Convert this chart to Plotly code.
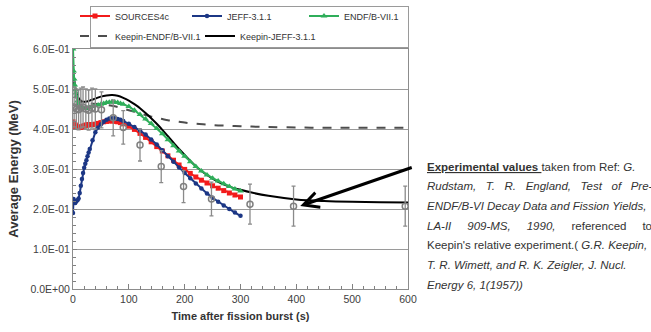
import plotly.graph_objects as go

# ---------------- data ----------------
time_calc = [0, 1, 2, 3, 4, 5, 6, 8, 10, 12, 14, 16, 18, 20, 22, 24, 26, 28, 30,
             35, 40, 45, 50, 55, 60, 65, 70, 75, 80, 85, 90,
             100, 110, 120, 130, 140, 150, 160, 170, 180, 190, 200,
             210, 220, 230, 240, 250, 260, 270, 280, 290, 300]

sources4c = [0.418, 0.410, 0.407, 0.409, 0.410, 0.407, 0.405, 0.404, 0.404, 0.405, 0.404,
             0.406, 0.407, 0.408, 0.409, 0.410, 0.410, 0.411, 0.411,
             0.411, 0.412, 0.414, 0.416, 0.418, 0.419, 0.420, 0.420, 0.419, 0.418, 0.416, 0.413,
             0.407, 0.399, 0.389, 0.379, 0.368, 0.356, 0.345, 0.333, 0.322, 0.310, 0.299,
             0.289, 0.280, 0.272, 0.265, 0.258, 0.252, 0.246, 0.240, 0.235, 0.230]

jeff311 = [0.190, 0.225, 0.220, 0.216, 0.215, 0.218, 0.220, 0.222, 0.226, 0.240, 0.258,
           0.275, 0.290, 0.303, 0.313, 0.322, 0.332, 0.341, 0.350,
           0.372, 0.392, 0.404, 0.412, 0.418, 0.423, 0.426, 0.427, 0.427, 0.425, 0.423, 0.420,
           0.413, 0.405, 0.396, 0.386, 0.374, 0.361, 0.347, 0.332, 0.318, 0.304, 0.290,
           0.277, 0.264, 0.251, 0.239, 0.228, 0.218, 0.209, 0.200, 0.191, 0.183]

endf71 = [0.600, 0.545, 0.525, 0.510, 0.498, 0.490, 0.482, 0.470, 0.462, 0.457, 0.454,
          0.452, 0.451, 0.451, 0.451, 0.452, 0.452, 0.453, 0.454,
          0.456, 0.458, 0.460, 0.462, 0.464, 0.466, 0.467, 0.468, 0.467, 0.466, 0.464, 0.462,
          0.456, 0.447, 0.436, 0.425, 0.414, 0.401, 0.388, 0.373, 0.358, 0.345, 0.332,
          0.318, 0.306, 0.295, 0.285, 0.277, 0.270, 0.263, 0.256, 0.250, 0.245]

time_keepin = [0, 1, 2, 3, 4, 6, 8, 10, 15, 20, 25, 30, 40, 50, 60, 70, 80, 90, 100,
               110, 120, 130, 140, 150, 160, 170, 180, 190, 200, 220, 240, 260, 280, 300,
               320, 350, 400, 450, 500, 550, 600]

keepin_endf = [0.525, 0.515, 0.503, 0.494, 0.487, 0.478, 0.472, 0.469, 0.466, 0.465, 0.464,
               0.464, 0.463, 0.462, 0.460, 0.458, 0.455, 0.451, 0.447,
               0.443, 0.439, 0.435, 0.431, 0.428, 0.425, 0.422, 0.420, 0.418, 0.416, 0.413,
               0.411, 0.409, 0.408, 0.407, 0.406, 0.405, 0.404, 0.403, 0.403, 0.403, 0.403]

keepin_jeff = [0.520, 0.535, 0.525, 0.514, 0.505, 0.492, 0.483, 0.477, 0.470, 0.468, 0.469,
               0.471, 0.476, 0.481, 0.484, 0.485, 0.483, 0.478, 0.471,
               0.462, 0.452, 0.440, 0.427, 0.413, 0.398, 0.382, 0.366, 0.350, 0.335, 0.307,
               0.285, 0.268, 0.256, 0.248, 0.241, 0.233, 0.224, 0.220, 0.218, 0.217, 0.216]

exp_time = [2, 6, 10, 14, 18, 23, 28, 34, 40, 51, 72, 90, 120, 158, 198, 248, 317, 395, 595]
exp_value = [0.455, 0.450, 0.448, 0.452, 0.455, 0.450, 0.447, 0.452, 0.450, 0.448, 0.428,
             0.404, 0.360, 0.306, 0.256, 0.225, 0.212, 0.207, 0.207]
exp_error = [0.05, 0.05, 0.05, 0.05, 0.05, 0.05, 0.05, 0.05, 0.05, 0.045, 0.045,
             0.042, 0.04, 0.04, 0.04, 0.042, 0.05, 0.05, 0.05]

y_tick_values = [0.0, 0.1, 0.2, 0.3, 0.4, 0.5, 0.6]
y_tick_labels = ["0.0E+00", "1.0E-01", "2.0E-01", "3.0E-01", "4.0E-01", "5.0E-01", "6.0E-01"]
x_tick_values = [0, 100, 200, 300, 400, 500, 600]

S = "\u00a0"  # extra spacing used to imitate the justified paragraph
note_lines = [
    f"<b><u>Experimental values </u></b>taken{S}from{S}Ref:{S}<i>G.</i>",
    f"<i>Rudstam,{S}{S} T.{S}{S} R.{S}{S} England,{S}{S} Test{S}{S} of{S}{S} Pre-</i>",
    "<i>ENDF/B-VI Decay Data and Fission Yields,</i>",
    f"<i>LA-II{S*4} 909-MS,{S*4} 1990,</i>{S*4} referenced{S*4} to",
    f"Keepin's relative experiment.( <i>G.R. Keepin,</i>",
    f"<i>T.{S}R.{S}Wimett,{S}and{S}R.{S}K.{S}Zeigler,{S}J.{S}Nucl.</i>",
    "<i>Energy 6, 1(1957))</i>",
]

# ---------------- geometry (pixels) ----------------
W, H = 651, 332
L, R, T, B = 73, 243, 7, 43          # paper area spans y 7..289
PH = H - T - B                        # 282
PLOT_TOP = 49                         # top of the main plotting area


def py(ypix):
    return (H - B - ypix) / PH


def px(xpix):
    return (xpix - L) / (W - L - R)


# ---------------- figure ----------------
FONT = "Liberation Sans, Arial, sans-serif"
fig = go.Figure()

fig.add_trace(go.Scatter(x=time_keepin, y=keepin_endf, mode="lines", name="Keepin-ENDF/B-VII.1",
                         line=dict(color="#4d4d4d", width=2, dash="dash", shape="spline"),
                         legend="legend2", legendrank=1, legendwidth=80))
fig.add_trace(go.Scatter(x=time_keepin, y=keepin_jeff, mode="lines", name="Keepin-JEFF-3.1.1",
                         line=dict(color="#000000", width=2, shape="spline"),
                         legend="legend2", legendrank=2, legendwidth=80))
fig.add_trace(go.Scatter(x=time_calc, y=sources4c, mode="lines+markers", name="SOURCES4c",
                         line=dict(color="#f21b1b", width=2),
                         marker=dict(symbol="square", size=5, color="#f21b1b"),
                         legend="legend", legendrank=1, legendwidth=67))
fig.add_trace(go.Scatter(x=time_calc, y=jeff311, mode="lines+markers", name="JEFF-3.1.1",
                         line=dict(color="#1c3785", width=2),
                         marker=dict(symbol="circle", size=4.5, color="#1c3785"),
                         legend="legend", legendrank=2, legendwidth=72))
fig.add_trace(go.Scatter(x=time_calc, y=endf71, mode="lines+markers", name="ENDF/B-VII.1",
                         line=dict(color="#2fae5a", width=2),
                         marker=dict(symbol="triangle-up", size=6, color="#2fae5a"),
                         legend="legend", legendrank=3, legendwidth=60))
fig.add_trace(go.Scatter(x=exp_time, y=exp_value, mode="markers", name="Experimental",
                         showlegend=False,
                         marker=dict(symbol="circle-open", size=6, color="#7f7f7f",
                                     line=dict(width=1.5, color="#7f7f7f")),
                         error_y=dict(type="data", array=exp_error, visible=True,
                                      color="#8a8a8a", thickness=1.3, width=2)))
# empty trace on the frame axes that outline the legend
fig.add_trace(go.Scatter(x=[], y=[], xaxis="x2", yaxis="y2", showlegend=False,
                         hoverinfo="skip"))

# arrow pointing at the Keepin-JEFF curve
fig.add_annotation(x=407, y=0.2075, xref="x", yref="y", text="", showarrow=True,
                   ax=113, ay=-39, arrowhead=5, arrowsize=1, arrowwidth=3, arrowcolor="#000000")

# note text, one line per annotation
line_y0 = 166.5
line_step = 19.7
for i, txt in enumerate(note_lines):
    fig.add_annotation(x=px(425), y=py(line_y0 + i * line_step), xref="paper", yref="paper",
                       xanchor="left", yanchor="middle", text=txt, showarrow=False,
                       font=dict(family=FONT, size=11.5, color="#333333"), align="left")

legend_common = dict(orientation="h", xanchor="left", yanchor="middle", itemwidth=30,
                     font=dict(family=FONT, size=9, color="#333333"),
                     bgcolor="rgba(0,0,0,0)", borderwidth=0, entrywidthmode="pixels")

frame_axis = dict(showline=True, mirror=True, linecolor="#9a9a9a", linewidth=1,
                  showgrid=False, zeroline=False, showticklabels=False, ticks="",
                  range=[0, 1], fixedrange=True)

fig.update_layout(
    width=W, height=H,
    margin=dict(l=L, r=R, t=T, b=B, autoexpand=False),
    paper_bgcolor="white", plot_bgcolor="white",
    font=dict(family=FONT, color="#333333"),
    showlegend=True,
    legend=dict(x=px(75), y=py(16), **legend_common),
    legend2=dict(x=px(75), y=py(36), **legend_common),
    xaxis=dict(domain=[0, 1], anchor="y", range=[0, 600], tickvals=x_tick_values,
               ticks="inside", ticklen=5,
               tickcolor="#808080", showgrid=False, zeroline=False,
               showline=True, linecolor="#8c8c8c", linewidth=1, mirror=True,
               minor=dict(dtick=20, ticks="inside", ticklen=3, tickcolor="#808080", showgrid=False),
               tickfont=dict(family=FONT, size=10.5, color="#404040"),
               title=dict(text="<b>Time after fission burst (s)</b>",
                          font=dict(family=FONT, size=11, color="#333333"), standoff=8)),
    yaxis=dict(domain=[0, py(PLOT_TOP)], anchor="x", range=[0, 0.6],
               tickvals=y_tick_values, ticktext=y_tick_labels,
               ticks="inside", ticklen=4, tickcolor="#808080",
               showgrid=True, gridcolor="#9a9a9a", gridwidth=1, zeroline=False,
               showline=True, linecolor="#8c8c8c", linewidth=1, mirror=True,
               minor=dict(dtick=0.02, ticks="inside", ticklen=3, tickcolor="#808080", showgrid=False),
               tickfont=dict(family=FONT, size=10.5, color="#404040"),
               title=dict(text="<b>Average Energy (MeV)</b>",
                          font=dict(family=FONT, size=13, color="#333333"), standoff=8)),
    xaxis2=dict(domain=[px(91), 1.0], anchor="y2", **frame_axis),
    yaxis2=dict(domain=[py(47), 1.0], anchor="x2", **frame_axis),
)

fig.write_html("out.html")
